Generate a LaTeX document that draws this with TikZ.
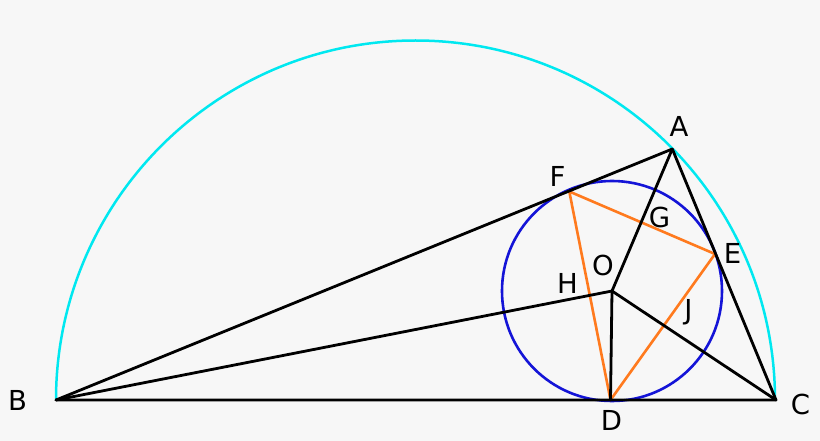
\documentclass[tikz,border=0pt]{standalone}
\usepackage{fontspec}
\setmainfont{DejaVu Sans}
\definecolor{bgc}{RGB}{247,247,247}
\definecolor{semic}{RGB}{0,232,240}
\definecolor{inc}{RGB}{20,20,215}
\definecolor{orc}{RGB}{255,122,30}
\begin{document}
\begin{tikzpicture}[x=1pt,y=-1pt,
  tri/.style={draw=black,line width=2.8pt,line join=round,line cap=round},
  ped/.style={draw=orc,line width=2.6pt,line join=round,line cap=round},
  lbl/.style={anchor=base,inner sep=0pt,font=\fontsize{27.5pt}{30pt}\selectfont}]
\fill[bgc] (0,0) rectangle (820,441);
\useasboundingbox (0,0) rectangle (820,441);
\coordinate (A) at (672.3,149);
\coordinate (B) at (56,400);
\coordinate (C) at (776,400);
\coordinate (O) at (612,291);
\coordinate (D) at (610.5,400);
\coordinate (E) at (715,254);
\coordinate (F) at (569.3,191.5);
% semicircle
\draw[semic,line width=2.5pt] (B) arc[start angle=180,end angle=0,radius=359.5pt];
% incircle
\draw[inc,line width=2.6pt] (O) circle[radius=110pt];
% orange triangle
\draw[ped] (D) -- (E) -- (F) -- cycle;
% main triangle
\draw[tri] (A) -- (B) -- (C) -- cycle;
\draw[tri] (O) -- (A);
\draw[tri] (O) -- (B);
\draw[tri] (O) -- (C);
\draw[tri] (O) -- (D);
% labels
\node[lbl] (lA) at (679,137) {A};
\node[lbl] (lB) at (17.5,410) {B};
\node[lbl] (lC) at (800.5,414) {C};
\node[lbl] (lD) at (611.5,430) {D};
\node[lbl] (lE) at (732.5,263) {E};
\node[lbl] (lF) at (557.5,186) {F};
\node[lbl] (lG) at (659.5,227) {G};
\node[lbl] (lH) at (567.5,293) {H};
\node[lbl] (lO) at (603,275) {O};
\node[lbl] (lJ) at (688.5,319) {J};
\end{tikzpicture}
\end{document}
